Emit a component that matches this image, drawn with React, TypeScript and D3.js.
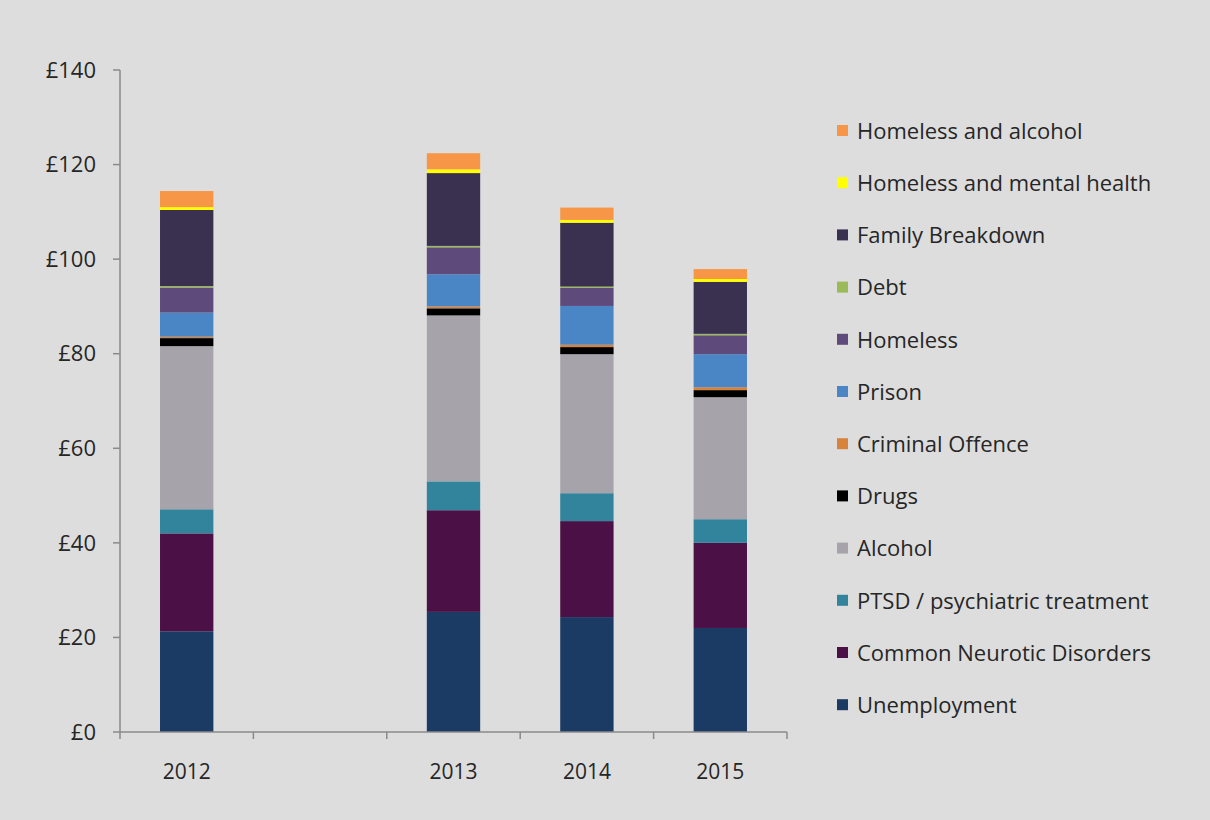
import React from "react";
import * as d3 from "d3";

const slots = ["2012", "gap", "2013", "2014", "2015"];
const slotLabels = ["2012", "", "2013", "2014", "2015"];
const years = ["2012", "2013", "2014", "2015"];

const seriesNames = [
  "Unemployment",
  "Common Neurotic Disorders",
  "PTSD / psychiatric treatment",
  "Alcohol",
  "Drugs",
  "Criminal Offence",
  "Prison",
  "Homeless",
  "Debt",
  "Family Breakdown",
  "Homeless and mental health",
  "Homeless and alcohol",
];

const unemployment = [21.3, 25.4, 24.3, 22.0];
const commonNeurotic = [20.7, 21.5, 20.3, 18.0];
const ptsd = [5.1, 6.1, 5.9, 5.0];
const alcohol = [34.5, 35.1, 29.4, 25.8];
const drugs = [1.7, 1.5, 1.5, 1.5];
const criminalOffence = [0.3, 0.4, 0.5, 0.6];
const prison = [5.1, 6.8, 8.2, 7.0];
const homeless = [5.3, 5.7, 3.8, 4.0];
const debt = [0.3, 0.3, 0.3, 0.3];
const familyBreakdown = [16.1, 15.4, 13.5, 11.0];
const homelessMental = [0.6, 0.8, 0.6, 0.6];
const homelessAlcohol = [3.4, 3.4, 2.6, 2.1];

const seriesValues = [
  unemployment,
  commonNeurotic,
  ptsd,
  alcohol,
  drugs,
  criminalOffence,
  prison,
  homeless,
  debt,
  familyBreakdown,
  homelessMental,
  homelessAlcohol,
];

const colors = [
  "#1b3a64",
  "#4b1045",
  "#31849b",
  "#a6a4aa",
  "#000000",
  "#d9823c",
  "#4a85c6",
  "#5f4a7c",
  "#9bbb59",
  "#3a3050",
  "#ffff00",
  "#f79646",
];

const yTicks = [0, 20, 40, 60, 80, 100, 120, 140];

const W = 1210;
const H = 820;
const FONT = "'Open Sans', sans-serif";
const TEXT = "#262626";

export default function App() {
  const x = d3.scaleBand<string>().domain(slots).range([120, 787]).padding(0);
  const y = d3.scaleLinear().domain([0, 140]).range([732, 70]);

  const rows = years.map((yr, i) => {
    const r: any = { year: yr };
    seriesNames.forEach((s, k) => (r[s] = seriesValues[k][i]));
    return r;
  });
  const stacked = d3.stack<any>().keys(seriesNames)(rows);
  const barW = x.bandwidth() * 0.4;

  const legendX = 837;
  const legendTop = 131;
  const legendStep = 52.2;
  const legendOrder = [...seriesNames].reverse();

  return (
    <svg
      width={W}
      height={H}
      style={{ position: "absolute", left: 0, top: 0, background: "#dddddd" }}
      fontFamily={FONT}
    >
      <rect x={0} y={0} width={W} height={H} fill="#dddddd" />
      {/* bars */}
      {stacked.map((layer, k) => (
        <g key={seriesNames[k]} fill={colors[k]}>
          {layer.map((d, i) => {
            const cx = (x(d.data.year) as number) + x.bandwidth() / 2;
            return (
              <rect
                key={i}
                x={cx - barW / 2}
                y={y(d[1])}
                width={barW}
                height={Math.max(0, y(d[0]) - y(d[1]))}
              />
            );
          })}
        </g>
      ))}
      {/* y axis */}
      <line x1={120} x2={120} y1={y(140)} y2={y(0)} stroke="#8a8a8a" strokeWidth={1.5} />
      {yTicks.map((t) => (
        <g key={t}>
          <line x1={113} x2={120} y1={y(t)} y2={y(t)} stroke="#8a8a8a" strokeWidth={1.5} />
          <text
            x={96}
            y={y(t)}
            dy="0.35em"
            textAnchor="end"
            fontSize={22}
            fill={TEXT}
          >
            {`£${t}`}
          </text>
        </g>
      ))}
      {/* x axis */}
      <line x1={120} x2={787} y1={y(0)} y2={y(0)} stroke="#8a8a8a" strokeWidth={1.5} />
      {slots.map((s) => (
        <line
          key={"t" + s}
          x1={(x(s) as number) + x.bandwidth()}
          x2={(x(s) as number) + x.bandwidth()}
          y1={y(0)}
          y2={y(0) + 7}
          stroke="#8a8a8a"
          strokeWidth={1.5}
        />
      ))}
      <line x1={120} x2={120} y1={y(0)} y2={y(0) + 7} stroke="#8a8a8a" strokeWidth={1.5} />
      {slots.map((s, i) => (
        <text
          key={"l" + s}
          x={(x(s) as number) + x.bandwidth() / 2}
          y={772}
          dy="0.35em"
          textAnchor="middle"
          fontSize={21}
          fill={TEXT}
        >
          {slotLabels[i]}
        </text>
      ))}
      {/* legend */}
      {legendOrder.map((name, j) => {
        const k = seriesNames.indexOf(name);
        const cy = legendTop + j * legendStep;
        return (
          <g key={name}>
            <rect x={legendX} y={cy - 6} width={11} height={11} fill={colors[k]} />
            <text x={857} y={cy} dy="0.35em" fontSize={22} fill={TEXT}>
              {name}
            </text>
          </g>
        );
      })}
    </svg>
  );
}
